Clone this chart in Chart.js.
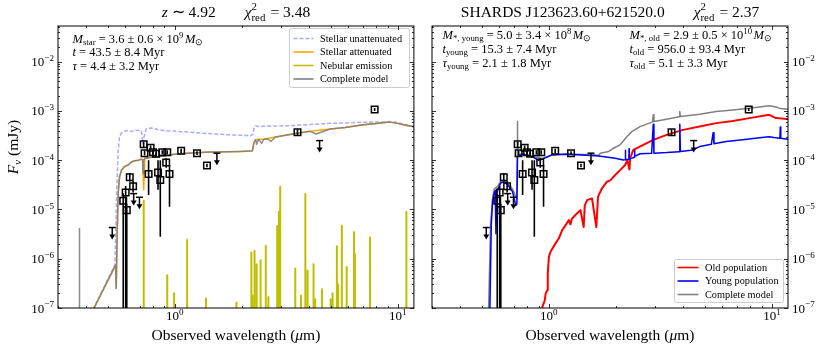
<!DOCTYPE html>
<html><head><meta charset="utf-8">
<script src="https://cdn.jsdelivr.net/npm/chart.js@4/dist/chart.umd.min.js"></script>
<style>
html,body{margin:0;padding:0;background:#fff;width:830px;height:346px;overflow:hidden}
#a{position:absolute;left:0;top:0}
#b{position:absolute;left:420px;top:0}
</style></head><body>
<canvas id="a" width="420" height="346"></canvas>
<canvas id="b" width="410" height="346"></canvas>
<script>
// ---------------- DATA ----------------
// Observed photometry (wavelength um, flux mJy, error-bar low / high)
const photWl   = [0.588,0.603,0.610,0.629,0.651,0.726,0.733,0.764,0.780,0.800,0.825,0.842,0.862,0.880,0.916,0.926,0.948,1.069,1.259,1.395,3.55,7.87];
const photFlux = [1.5e-5,2.2e-5,9.7e-6,4.5e-5,2.95e-5,2.1e-4,1.39e-4,5.26e-5,1.8e-4,1.45e-4,1.35e-4,5.6e-5,3.97e-5,1.45e-4,9.0e-5,1.45e-4,5.26e-5,1.55e-4,1.39e-4,7.8e-5,3.71e-4,1.07e-3];
const photLo   = [1e-9,1e-9,1e-9,3.7e-5,2.2e-5,1.85e-4,1.25e-4,1.96e-5,1.6e-4,1.3e-4,1.2e-4,2.5e-5,2.8e-6,1.3e-4,7.0e-5,1.3e-4,1.14e-5,1.4e-4,1.27e-4,7.2e-5,3.2e-4,1.0e-3];
const photHi   = [2.1e-5,3.0e-5,1.3e-5,5.5e-5,3.8e-5,2.35e-4,1.55e-4,1.0e-4,2.0e-4,1.6e-4,1.5e-4,1.0e-4,1.0e-4,1.6e-4,1.1e-4,1.6e-4,8.0e-5,1.7e-4,1.52e-4,8.5e-5,4.2e-4,1.15e-3];
// Upper limits
const limWl   = [0.525,0.655,0.695,1.546,4.46];
const limFlux = [4.3e-6,2.1e-5,1.77e-5,1.39e-4,2.5e-4];

// Left panel models
const unattWl   = [0.43,0.5393,0.5433,0.549,0.5585,0.566,0.5777,0.5976,0.6188,0.64,0.662,0.6877,0.709,0.7216,0.729,0.7464,0.7857,0.8415,0.9162,0.9977,1.069,1.184,1.312,1.53,1.695,1.977,2.191,2.24,2.266,2.306,2.378,2.51,2.83,3.135,3.535,4.052,4.974,5.8,7.0,8.74,9.2,9.85,10.73,11.68,12.5];
const unattFlux = [9e-8,7.5e-7,2.5e-6,2.0e-5,1.6e-4,3.0e-4,3.6e-4,3.9e-4,4.0e-4,3.8e-4,4.1e-4,4.0e-4,3.9e-4,2.2e-4,3.0e-4,4.4e-4,4.5e-4,4.2e-4,3.9e-4,3.9e-4,3.8e-4,3.7e-4,3.55e-4,3.4e-4,3.3e-4,3.2e-4,3.15e-4,3.3e-4,4.4e-4,5.0e-4,4.8e-4,4.9e-4,4.95e-4,5.0e-4,5.1e-4,5.3e-4,5.6e-4,5.7e-4,5.9e-4,6.0e-4,6.1e-4,5.9e-4,5.3e-4,4.8e-4,4.5e-4];

const attWl   = [0.43,0.5433,0.547,0.552,0.5585,0.566,0.5777,0.5976,0.6188,0.64,0.662,0.6877,0.709,0.718,0.7265,0.735,0.7464,0.7857,0.8415,0.9162,0.9977,1.069,1.184,1.312,1.53,1.977,2.191,2.23,2.266,2.306,2.378,2.51,2.83,3.135,3.535,4.052,4.974,5.8,7.0,8.74,9.2,9.85,10.73,11.68,12.5];
const attFlux = [9e-8,7.4e-7,2.5e-7,3.0e-6,2.2e-5,4.6e-5,6.3e-5,7.5e-5,8.0e-5,9.2e-5,9.8e-5,1.0e-4,1.05e-4,1.0e-4,2.5e-5,1.1e-4,1.1e-4,1.15e-4,1.18e-4,1.25e-4,1.32e-4,1.36e-4,1.40e-4,1.43e-4,1.47e-4,1.51e-4,1.53e-4,1.55e-4,2.3e-4,2.6e-4,2.65e-4,2.67e-4,2.95e-4,3.2e-4,3.54e-4,3.85e-4,4.3e-4,4.6e-4,5.22e-4,5.8e-4,5.93e-4,5.66e-4,5.2e-4,4.82e-4,4.5e-4];

const nebWl   = [0.7265,0.926,0.994,1.137,1.381,1.89,2.206,2.23,2.28,2.33,2.427,2.56,2.63,2.88,2.93,2.97,3.47,3.68,3.85,3.94,4.19,4.26,4.57,5.0,5.1,5.33,5.4,5.61,5.9,6.36,6.42,7.5,10.92];
const nebFlux = [1.5e-5,4.6e-7,2.0e-7,2.4e-6,1.55e-7,1.3e-7,1.34e-6,1.8e-7,1.43e-6,7.7e-7,9.3e-7,1.83e-6,1.67e-7,4.6e-6,9.0e-6,2.9e-5,6.3e-7,1.8e-7,2.06e-5,5.8e-7,7.7e-7,1.5e-7,2.4e-7,1.5e-7,2.0e-7,1.8e-6,3.0e-7,4.67e-6,6.8e-7,3.5e-6,1.28e-6,2.7e-6,8.9e-6];

const compLWl   = [0.3745,0.3745,0.3745,0.43,0.5433,0.547,0.552,0.5585,0.566,0.5777,0.5976,0.6188,0.64,0.662,0.6877,0.709,0.718,0.7216,0.726,0.735,0.7464,0.7857,0.8415,0.9162,0.9977,1.069,1.184,1.312,1.405,1.53,1.695,1.977,2.191,2.23,2.266,2.306,2.33,2.378,2.45,2.51,2.6,2.7,2.83,3.135,3.535,4.052,4.3,4.974,5.8,7.0,7.89,8.74,9.2,9.85,10.73,11.68,12.5];
const compLFlux = [1e-9,4.1e-6,1e-9,9e-8,7.4e-7,2.5e-7,3.0e-6,2.2e-5,4.6e-5,6.3e-5,7.5e-5,8.0e-5,9.2e-5,9.8e-5,1.0e-4,1.05e-4,1.02e-4,5.4e-5,1.0e-4,1.1e-4,1.1e-4,1.15e-4,1.18e-4,1.25e-4,1.32e-4,1.36e-4,1.40e-4,1.43e-4,1.46e-4,1.47e-4,1.49e-4,1.51e-4,1.53e-4,1.55e-4,2.3e-4,2.6e-4,2.1e-4,2.65e-4,2.2e-4,2.67e-4,2.72e-4,2.4e-4,2.95e-4,3.2e-4,3.54e-4,3.85e-4,3.4e-4,4.3e-4,4.6e-4,5.22e-4,5.5e-4,5.8e-4,5.93e-4,5.66e-4,5.2e-4,4.82e-4,4.5e-4];

// Right panel models
const oldWl   = [0.93,0.9363,0.96,0.9685,0.985,0.99,1.002,1.02,1.073,1.11,1.149,1.19,1.23,1.25,1.27,1.317,1.387,1.434,1.45,1.485,1.563,1.634,1.663,1.732,1.823,1.886,1.985,2.089,2.199,2.25,2.3,2.315,2.394,2.653,2.94,3.373,3.998,4.745,5.63,6.674,7.921,9.725,10.42,11.73,12.57];
const oldFlux = [5e-8,1.05e-7,1.43e-7,1.96e-7,2.3e-7,5e-7,1.09e-6,1.4e-6,2.05e-6,2.6e-6,3.81e-6,4.8e-6,6.1e-6,5.0e-6,6.5e-6,7.7e-6,9.7e-6,4.4e-6,1.2e-5,1.55e-5,1.67e-5,4.4e-6,1.82e-5,2.69e-5,3.66e-5,3.9e-5,5.0e-5,6.3e-5,8.0e-5,1.0e-4,6.5e-5,1.1e-4,1.62e-4,2.05e-4,2.59e-4,3.27e-4,4.13e-4,4.82e-4,5.66e-4,6.26e-4,7.15e-4,8.35e-4,7.15e-4,6.9e-4,6.8e-4];

const youngWl   = [0.538,0.5452,0.553,0.5608,0.57,0.576,0.5801,0.585,0.5921,0.6107,0.6315,0.6539,0.6884,0.712,0.72,0.7246,0.7626,0.845,0.896,0.936,1.037,1.189,1.411,1.673,1.985,2.161,2.2,2.205,2.21,2.285,2.29,2.295,2.42,2.425,2.43,2.565,2.891,2.94,2.96,3.373,3.837,3.865,3.89,4.43,4.745,5.351,5.45,5.5,6.24,7.396,8.776,9.725,10.2,10.85,10.9,10.95,11.73,12.57];
const youngFlux = [5e-8,1.0e-7,5e-6,1.5e-5,2.2e-5,2.4e-5,3.2e-6,2.0e-5,2.6e-5,3.5e-5,3.6e-5,3.2e-5,2.3e-5,1.2e-5,1.3e-5,1.18e-4,1.32e-4,1.18e-4,1.0e-4,1.05e-4,1.28e-4,1.32e-4,1.28e-4,1.22e-4,1.1e-4,1.01e-4,1.02e-4,1.6e-4,1.02e-4,1.05e-4,1.7e-4,1.05e-4,1.15e-4,1.6e-4,1.2e-4,1.35e-4,1.39e-4,5.4e-4,1.39e-4,1.43e-4,1.49e-4,5.4e-4,1.5e-4,1.62e-4,1.89e-4,2.1e-4,3.6e-4,2.15e-4,2.39e-4,2.59e-4,2.85e-4,3.0e-4,2.9e-4,2.8e-4,4.7e-4,2.8e-4,2.67e-4,2.6e-4];

const compRWl   = [0.533,0.5383,0.549,0.5608,0.57,0.5921,0.6107,0.6315,0.6539,0.6884,0.712,0.72,0.7235,0.7242,0.7255,0.7626,0.845,0.936,1.037,1.189,1.411,1.563,1.673,1.702,1.853,1.951,2.089,2.238,2.356,2.565,2.92,2.94,2.96,3.373,3.84,3.865,3.89,4.745,5.63,6.674,7.92,9.725,10.42,10.77,11.73,12.57];
const compRFlux = [5e-8,1.0e-7,5e-6,1.7e-5,2.6e-5,3.0e-5,3.8e-5,3.9e-5,3.4e-5,2.6e-5,1.8e-5,1.6e-5,1.3e-4,6.1e-4,1.3e-4,1.33e-4,1.2e-4,1.08e-4,1.3e-4,1.34e-4,1.3e-4,1.3e-4,1.25e-4,1.39e-4,1.5e-4,1.75e-4,2.05e-4,3.0e-4,3.8e-4,4.8e-4,6.0e-4,8.4e-4,6.1e-4,6.8e-4,7.6e-4,9.7e-4,7.7e-4,8.6e-4,9.7e-4,1.05e-3,1.14e-3,1.27e-3,1.2e-3,1.14e-3,1.08e-3,1.05e-3];

// Axes / ticks
const xMin = 0.305, xMax = 11.8, yMin = 1e-7, yMax = 0.053;
const xMajorTicks = [1, 10];
const xTickExps   = ['0', '1'];
const yMajorTicks = [1e-7, 1e-6, 1e-5, 1e-4, 1e-3, 1e-2];
const yTickExps   = ['\u22127','\u22126','\u22125','\u22124','\u22123','\u22122'];
const xMinorTicks = [];
[0.1, 1].forEach(d => { for (let k = 2; k <= 9; k++) xMinorTicks.push(k * d); });
const yMinorTicks = [];
yMajorTicks.forEach(d => { for (let k = 2; k <= 9; k++) yMinorTicks.push(k * d); });

// ---------------- HELPERS ----------------
const FONT = '"Liberation Serif", "Times New Roman", serif';
const fnt = (s, it) => (it ? 'italic ' : '') + s.toFixed(2) + 'px ' + FONT;

function pts(xs, ys) { return xs.map((x, i) => ({x, y: ys[i]})); }
function spikes(xs, ys, floor) {
  const out = [];
  xs.forEach((x, i) => { out.push({x, y: floor}, {x, y: ys[i]}, {x, y: floor}); });
  return out;
}
function errBars() {
  const out = [];
  photWl.forEach((x, i) => { out.push({x, y: photLo[i]}, {x, y: photHi[i]}, {x, y: null}); });
  return out;
}

function measureRich(ctx, segs, size) {
  let w = 0; const placed = [];
  for (const g of segs) {
    if (g.gap) { w += g.gap; continue; }
    if (g.stack) {
      ctx.font = fnt(size * 0.7, false);
      const a = ctx.measureText(g.stack[0]).width, b = ctx.measureText(g.stack[1]).width;
      placed.push({g, x: w}); w += Math.max(a, b) + size * 0.08; continue;
    }
    const sz = g.s ? size * 0.7 : size;
    ctx.font = fnt(sz, g.i);
    const ww = ctx.measureText(g.t).width;
    placed.push({g, x: w, sz}); w += ww;
  }
  return {w, placed};
}
function drawRich(ctx, x, y, segs, size, align) {
  const {w, placed} = measureRich(ctx, segs, size);
  const x0 = align === 'center' ? x - w / 2 : align === 'right' ? x - w : x;
  ctx.textAlign = 'left'; ctx.textBaseline = 'alphabetic'; ctx.fillStyle = '#000';
  for (const p of placed) {
    const g = p.g;
    if (g.stack) {
      ctx.font = fnt(size * 0.7, false);
      ctx.fillText(g.stack[0], x0 + p.x, y - size * 0.42);
      ctx.fillText(g.stack[1], x0 + p.x, y + size * 0.27);
      continue;
    }
    ctx.font = fnt(p.sz, g.i);
    const dy = g.s === 'sub' ? size * 0.22 : g.s === 'sup' ? -size * 0.4 : 0;
    ctx.fillText(g.t, x0 + p.x, y + dy);
  }
}

function drawLegend(ctx, box, rows, items) {
  ctx.save();
  ctx.fillStyle = 'rgba(255,255,255,0.85)';
  ctx.strokeStyle = '#cccccc'; ctx.lineWidth = 1;
  const r = 2, [bx, by, bw, bh] = box;
  ctx.beginPath();
  ctx.moveTo(bx + r, by); ctx.lineTo(bx + bw - r, by); ctx.quadraticCurveTo(bx + bw, by, bx + bw, by + r);
  ctx.lineTo(bx + bw, by + bh - r); ctx.quadraticCurveTo(bx + bw, by + bh, bx + bw - r, by + bh);
  ctx.lineTo(bx + r, by + bh); ctx.quadraticCurveTo(bx, by + bh, bx, by + bh - r);
  ctx.lineTo(bx, by + r); ctx.quadraticCurveTo(bx, by, bx + r, by);
  ctx.closePath(); ctx.fill(); ctx.stroke();
  items.forEach((it, i) => {
    const yy = rows.y0 + i * rows.dy;
    ctx.strokeStyle = it.c; ctx.lineWidth = 1.6; ctx.setLineDash(it.dash || []);
    ctx.beginPath(); ctx.moveTo(rows.x0, yy); ctx.lineTo(rows.x0 + rows.len, yy); ctx.stroke();
    ctx.setLineDash([]);
    ctx.fillStyle = '#000'; ctx.font = fnt(rows.fs, false); ctx.textBaseline = 'middle'; ctx.textAlign = 'left';
    ctx.fillText(it.t, rows.tx, yy + 0.5);
  });
  ctx.restore();
}

function decor(cfg) {
  return {
    id: 'decor_' + cfg.id,
    afterDatasetsDraw(chart) {
      const {ctx, chartArea: ca, scales: {x, y}} = chart;
      ctx.save();
      // upper limit shafts + arrow heads
      ctx.strokeStyle = '#000'; ctx.fillStyle = '#000'; ctx.lineWidth = 1.5;
      limWl.forEach((w, i) => {
        const px = x.getPixelForValue(w), py = y.getPixelForValue(limFlux[i]);
        ctx.beginPath(); ctx.moveTo(px, py); ctx.lineTo(px, py + 8); ctx.stroke();
        ctx.beginPath(); ctx.moveTo(px - 3, py + 7); ctx.lineTo(px + 3, py + 7); ctx.lineTo(px, py + 12); ctx.closePath(); ctx.fill();
      });
      // legend
      drawLegend(ctx, cfg.legend.box, cfg.legend.rows, cfg.legend.items);
      // frame
      ctx.strokeStyle = '#000'; ctx.lineWidth = 1;
      const L = ca.left, R = ca.right, T = ca.top, B = ca.bottom;
      ctx.strokeRect(L, T, R - L, B - T);
      // ticks
      const tick = (x1, y1, x2, y2) => { ctx.beginPath(); ctx.moveTo(x1, y1); ctx.lineTo(x2, y2); ctx.stroke(); };
      ctx.lineWidth = 0.8;
      xMajorTicks.forEach(v => { const p = Math.round(x.getPixelForValue(v)) + 0.5; if (p < L || p > R) return; tick(p, B, p, B - 4); tick(p, T, p, T + 4); });
      xMinorTicks.forEach(v => { const p = Math.round(x.getPixelForValue(v)) + 0.5; if (p < L || p > R) return; tick(p, B, p, B - 2); tick(p, T, p, T + 2); });
      yMajorTicks.forEach(v => { const p = Math.round(y.getPixelForValue(v)) + 0.5; if (p < T - 0.6 || p > B + 0.6) return; tick(L, p, L + 4, p); tick(R, p, R - 4, p); });
      yMinorTicks.forEach(v => { const p = Math.round(y.getPixelForValue(v)) + 0.5; if (p < T || p > B) return; tick(L, p, L + 2, p); tick(R, p, R - 2, p); });
      // tick labels
      xMajorTicks.forEach((v, i) => {
        drawRich(ctx, x.getPixelForValue(v), 320, [{t: '10'}, {t: xTickExps[i], s: 'sup'}], 13, 'center');
      });
      yMajorTicks.forEach((v, i) => {
        const p = y.getPixelForValue(v);
        if (cfg.side === 'left') drawRich(ctx, L - 4, p + 4.5, [{t: '10'}, {t: yTickExps[i], s: 'sup'}], 13, 'right');
        else drawRich(ctx, R + 4, p + 4.5, [{t: '10'}, {t: yTickExps[i], s: 'sup'}], 13, 'left');
      });
      // axis labels
      drawRich(ctx, (L + R) / 2, 340, [{t: 'Observed wavelength ('}, {t: '\u03bc', i: 1}, {t: 'm)'}], 15.5, 'center');
      if (cfg.ylabel) {
        ctx.save(); ctx.translate(18, 147); ctx.rotate(-Math.PI / 2);
        drawRich(ctx, 0, 0, cfg.ylabel, 15.5, 'center');
        ctx.restore();
      }
      // title
      drawRich(ctx, (L + R) / 2, 17, cfg.title, 15.5, 'center');
      // annotations
      cfg.notes.forEach(n => drawRich(ctx, n.x, n.y, n.segs, 12.5, 'left'));
      ctx.restore();
    }
  };
}

function makeChart(id, pad, datasets, plugin) {
  return new Chart(document.getElementById(id), {
    type: 'line',
    data: {datasets},
    options: {
      responsive: false, animation: false, devicePixelRatio: 1,
      layout: {padding: pad},
      plugins: {legend: {display: false}, tooltip: {enabled: false}},
      elements: {point: {radius: 0}, line: {tension: 0, borderJoinStyle: 'round'}},
      scales: {
        x: {type: 'logarithmic', min: xMin, max: xMax, display: false},
        y: {type: 'logarithmic', min: yMin, max: yMax, display: false}
      }
    },
    plugins: [plugin]
  });
}

const photDatasets = () => [
  {data: pts(photWl, photFlux), showLine: false, pointStyle: 'rect', pointRadius: 4.6,
   pointBorderColor: '#000', pointBorderWidth: 1.5, pointBackgroundColor: 'rgba(0,0,0,0)', borderColor: '#000', order: 0},
  {data: errBars(), borderColor: '#000', borderWidth: 1.6, spanGaps: false, order: 1},
  {data: pts(limWl, limFlux), showLine: false, pointStyle: 'line', pointRadius: 3.5,
   pointBorderColor: '#000', pointBorderWidth: 1.5, borderColor: '#000', order: 0}
];

// ---------------- LEFT PANEL ----------------
makeChart('a', {left: 58, right: 6, top: 26, bottom: 38}, [
  ...photDatasets(),
  {data: pts(compLWl, compLFlux), borderColor: 'rgba(128,128,128,0.9)', borderWidth: 1.5, order: 2},
  {data: spikes(nebWl, nebFlux, 1e-9), borderColor: '#bfbf00', borderWidth: 2, order: 3},
  {data: pts(attWl, attFlux), borderColor: '#ffa500', borderWidth: 1.5, order: 4},
  {data: pts(unattWl, unattFlux), borderColor: '#aaaaff', borderWidth: 1.5, borderDash: [4, 2], order: 5}
], decor({
  id: 'L', side: 'left',
  title: [{t: 'z', i: 1}, {t: ' \u223c 4.92'}, {gap: 29}, {t: '\u03c7', i: 1}, {stack: ['2', 'red']}, {t: ' = 3.48'}],
  ylabel: [{t: 'F', i: 1}, {t: '\u03bd', i: 1, s: 'sub'}, {t: ' (mJy)'}],
  notes: [
    {x: 72.5, y: 42.5, segs: [{t: 'M', i: 1}, {t: 'star', s: 'sub'}, {t: ' = 3.6 \u00b1 0.6 \u00d7 10'}, {t: '9', s: 'sup'}, {gap: 1.5}, {t: 'M', i: 1}, {t: '\u2299', s: 'sub'}]},
    {x: 72.5, y: 56, segs: [{t: 't', i: 1}, {t: ' = 43.5 \u00b1 8.4 Myr'}]},
    {x: 72.5, y: 69.5, segs: [{t: '\u03c4', i: 1}, {t: ' = 4.4 \u00b1 3.2 Myr'}]}
  ],
  legend: {
    box: [289.5, 28.5, 120, 59],
    rows: {y0: 38.5, dy: 13.5, x0: 293.5, len: 20, tx: 320, fs: 10.3},
    items: [
      {t: 'Stellar unattenuated', c: '#aaaaff', dash: [4, 2]},
      {t: 'Stellar attenuated', c: '#ffa500'},
      {t: 'Nebular emission', c: '#bfbf00'},
      {t: 'Complete model', c: '#808080'}
    ]
  }
}));

// ---------------- RIGHT PANEL ----------------
makeChart('b', {left: 12, right: 42, top: 26, bottom: 38}, [
  ...photDatasets(),
  {data: pts(youngWl, youngFlux), borderColor: '#0000ff', borderWidth: 1.5, order: 2},
  {data: pts(compRWl, compRFlux), borderColor: '#808080', borderWidth: 1.5, order: 3},
  {data: pts(oldWl, oldFlux), borderColor: '#ff0000', borderWidth: 2, order: 4}
], decor({
  id: 'R', side: 'right',
  title: [{t: 'SHARDS J123623.60+621520.0'}, {gap: 29}, {t: '\u03c7', i: 1}, {stack: ['2', 'red']}, {t: ' = 2.37'}],
  ylabel: null,
  notes: [
    {x: 22.5, y: 38.5, segs: [{t: 'M', i: 1}, {t: '*, young', s: 'sub'}, {t: ' = 5.0 \u00b1 3.4 \u00d7 10'}, {t: '8', s: 'sup'}, {gap: 1.5}, {t: 'M', i: 1}, {t: '\u2299', s: 'sub'}]},
    {x: 22.5, y: 52.5, segs: [{t: 't', i: 1}, {t: 'young', s: 'sub'}, {t: ' = 15.3 \u00b1 7.4 Myr'}]},
    {x: 22.5, y: 66.5, segs: [{t: '\u03c4', i: 1}, {t: 'young', s: 'sub'}, {t: ' = 2.1 \u00b1 1.8 Myr'}]},
    {x: 209.5, y: 38.5, segs: [{t: 'M', i: 1}, {t: '*, old', s: 'sub'}, {t: ' = 2.9 \u00b1 0.5 \u00d7 10'}, {t: '10', s: 'sup'}, {gap: 1.5}, {t: 'M', i: 1}, {t: '\u2299', s: 'sub'}]},
    {x: 209.5, y: 52.5, segs: [{t: 't', i: 1}, {t: 'old', s: 'sub'}, {t: ' = 956.0 \u00b1 93.4 Myr'}]},
    {x: 209.5, y: 66.5, segs: [{t: '\u03c4', i: 1}, {t: 'old', s: 'sub'}, {t: ' = 5.1 \u00b1 3.3 Myr'}]}
  ],
  legend: {
    box: [254.5, 259.5, 109, 43],
    rows: {y0: 267.5, dy: 13.5, x0: 257.5, len: 21, tx: 285, fs: 10.3},
    items: [
      {t: 'Old population', c: '#ff0000'},
      {t: 'Young population', c: '#0000ff'},
      {t: 'Complete model', c: '#808080'}
    ]
  }
}));
</script>
</body></html>
